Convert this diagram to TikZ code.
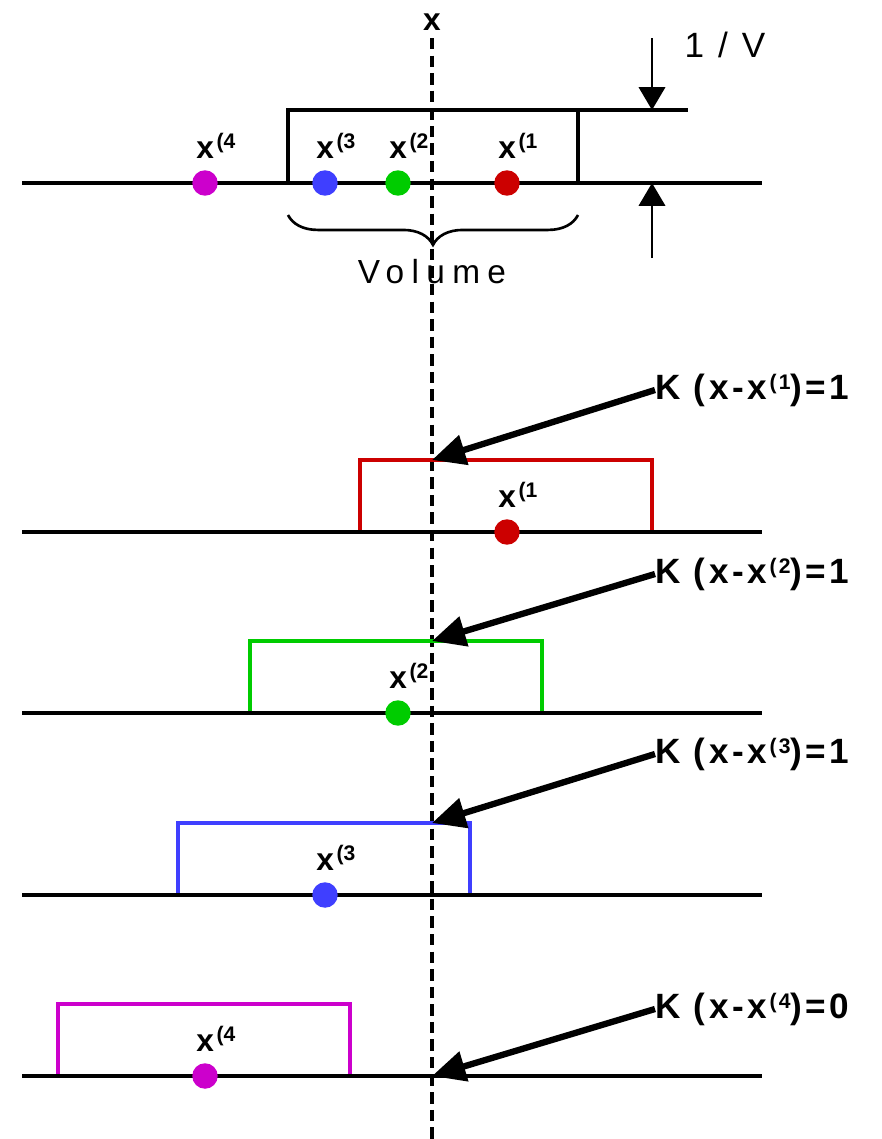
\documentclass[tikz,border=0pt]{standalone}
\usepackage{fontspec}
\setmainfont{Liberation Sans}
\usetikzlibrary{arrows.meta,positioning,decorations.pathreplacing,calc}
\definecolor{kred}{HTML}{CC0000}
\definecolor{kgreen}{HTML}{00CC00}
\definecolor{kblue}{HTML}{3F3FFF}
\definecolor{kmag}{HTML}{CC00CC}
\newcommand{\upidx}[1]{\hspace{1.5pt}\raisebox{5.5pt}{\fontsize{12}{12}\selectfont(#1}}

\begin{document}
\begin{tikzpicture}[x=0.02cm,y=-0.02cm,
    axis/.style={line width=2pt},
    kbox/.style={draw=#1,line width=2pt},
    sample/.style={circle,fill=#1,inner sep=0pt,minimum size=14.5pt},
    ptlabel/.style={anchor=base west,inner sep=0pt,font=\bfseries\fontsize{18}{20}\selectfont},
    klabel/.style={anchor=west,inner sep=0pt,font=\bfseries\fontsize{20}{22}\selectfont\addfontfeature{LetterSpace=10}},
    karrow/.style={line width=3.6pt,-{Triangle[length=19pt,width=17pt]}},
    varrow/.style={line width=1.4pt,-{Triangle[length=13pt,width=15pt]}}]
    \useasboundingbox (0,0) rectangle (882,1139);
    % vertical line through x
    \node[inner sep=0pt,font=\bfseries\fontsize{18}{20}\selectfont] (xtop) at (432,22) {x};
    \coordinate (xbot) at (432,1139);
    \draw[line width=2pt,dash pattern=on 6.5pt off 3.5pt] (432,38) -- (xbot);
    % top row: the volume window
    \coordinate (axl0) at (22,183);
    \coordinate (axr0) at (762,183);
    \coordinate (vtl) at (288,110);
    \coordinate (vtr) at (578,110);
    \coordinate (vext) at (688,110);
    \draw[kbox=black] (288,183) rectangle (vtr);
    \draw[kbox=black] (vtr) -- (vext);
    \draw[axis] (axl0) -- (axr0);
    \foreach \n/\px/\cl in {1/507/kred,2/398/kgreen,3/325/kblue,4/205/kmag}{
        \node[sample=\cl] (s\n) at (\px,183) {};
        \node[ptlabel] (sl\n) at (\px-9,158) {x\upidx{\n}};
    }
    \coordinate (bl) at (288,215);
    \coordinate (br) at (578,215);
    \draw[decorate,decoration={brace,mirror,amplitude=17pt},line width=1.5pt] (bl) -- (br);
    \node[font=\fontsize{19}{22}\selectfont\addfontfeature{LetterSpace=22}] (vol) at (432,272) {Volume};
    % height 1/V
    \coordinate (va) at (652,38);
    \coordinate (vb) at (652,110);
    \coordinate (vc) at (652,258);
    \coordinate (vd) at (652,183);
    \draw[varrow] (va) -- (vb);
    \draw[varrow] (vc) -- (vd);
    \node[font=\fontsize{20}{22}\selectfont\addfontfeature{LetterSpace=12}] (hv) at (725,45) {1 / V};
    % one kernel window per sample
    \foreach \n/\ay/\bl/\px/\cl/\ly/\ty/\kv in {
        1/532/360/507/kred/390/460/1,
        2/713/250/398/kgreen/574/641/1,
        3/895/178/325/kblue/754/823/1,
        4/1076/58/205/kmag/1009/1076/0}{
        \coordinate (axl\n) at (22,\ay);
        \coordinate (axr\n) at (762,\ay);
        \draw[kbox=\cl] (\bl,\ay) rectangle ++(292,-72);
        \draw[axis] (axl\n) -- (axr\n);
        \node[sample=\cl] (pt\n) at (\px,\ay) {};
        \node[ptlabel] (lab\n) at (\px-9,\ay-25) {x\upidx{\n}};
        \node[klabel] (k\n) at (655,\ly) {K (x-x\upidx{\n})=\kv};
        \coordinate (hit\n) at (432,\ty);
        \draw[karrow] (k\n.west) -- (hit\n);
    }
\end{tikzpicture}
\end{document}
